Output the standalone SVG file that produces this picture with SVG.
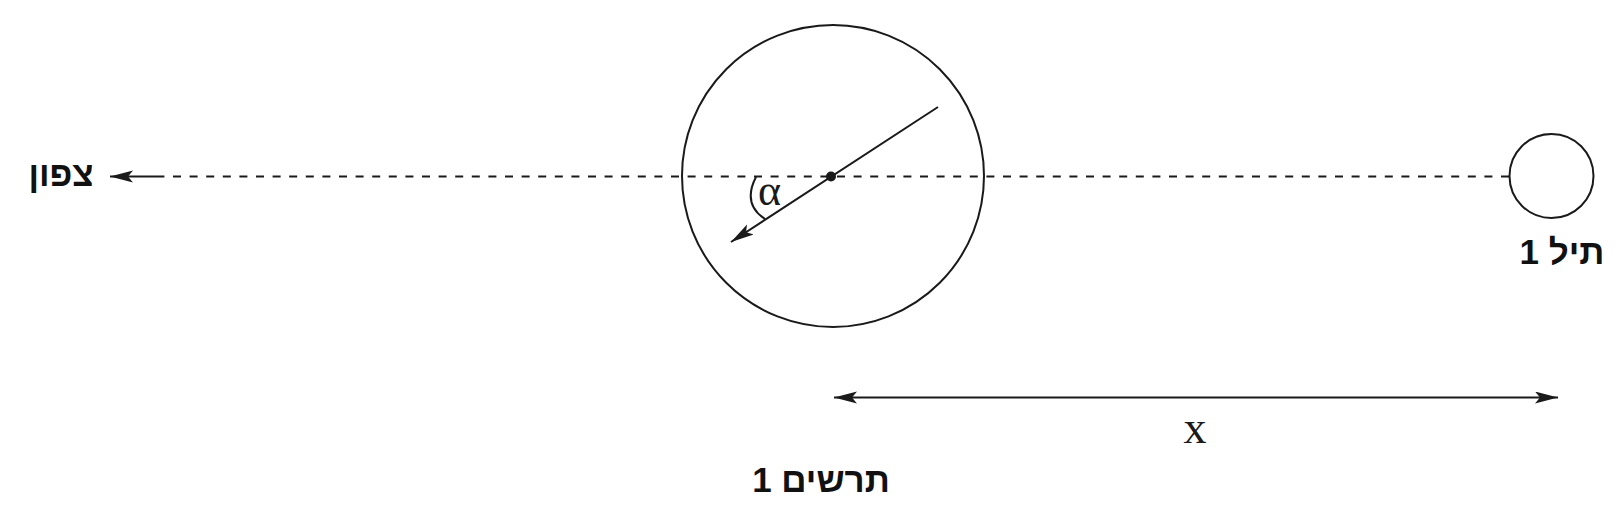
<svg xmlns="http://www.w3.org/2000/svg" width="1623" height="520" viewBox="0 0 1623 520">
<style>
.ln{stroke:#1a1a1a;stroke-width:2;fill:none}
.dash{stroke:#1a1a1a;stroke-width:2;fill:none;stroke-dasharray:8 8.6}
.heb{font-family:"Liberation Sans","DejaVu Sans",sans-serif;font-weight:bold;font-size:35px;fill:#111;text-anchor:middle}
.lat{font-family:"Liberation Serif","DejaVu Serif",serif;fill:#1a1a1a}
</style>
<defs>
<marker id="ah" markerUnits="userSpaceOnUse" markerWidth="26" markerHeight="14" refX="23" refY="6" orient="auto-start-reverse">
<path d="M0,0 L23,6 L0,12 L5,6 Z" fill="#1a1a1a"/>
</marker>
</defs>
<rect width="1623" height="520" fill="#fff"/>
<g id="connectors">
<line class="ln" x1="164" y1="176.5" x2="110" y2="176.5" marker-end="url(#ah)"/>
<line class="dash" x1="1509" y1="176.5" x2="164" y2="176.5"/>
<line class="ln" x1="938" y1="107" x2="731" y2="242" marker-end="url(#ah)"/>
<path class="ln" d="M756,177 Q742,204 765,219"/>
<line class="ln" x1="834" y1="397.5" x2="1558" y2="397.5" marker-start="url(#ah)" marker-end="url(#ah)"/>
</g>
<g id="north">
<text class="heb" x="61" y="186" direction="rtl">צפון</text>
</g>
<g id="bigcircle">
<circle class="ln" cx="833" cy="176" r="151"/>
<circle cx="831" cy="176.5" r="5" fill="#1a1a1a"/>
<text class="lat" x="758" y="205" font-size="44">α</text>
</g>
<g id="wire">
<circle class="ln" cx="1551.5" cy="176" r="42"/>
<text class="heb" x="1562" y="264" direction="rtl">תיל 1</text>
</g>
<g id="xlabel">
<text class="lat" x="1195" y="443" font-size="46" text-anchor="middle">x</text>
</g>
<g id="caption">
<text class="heb" x="821" y="492" direction="rtl">תרשים 1</text>
</g>
</svg>
